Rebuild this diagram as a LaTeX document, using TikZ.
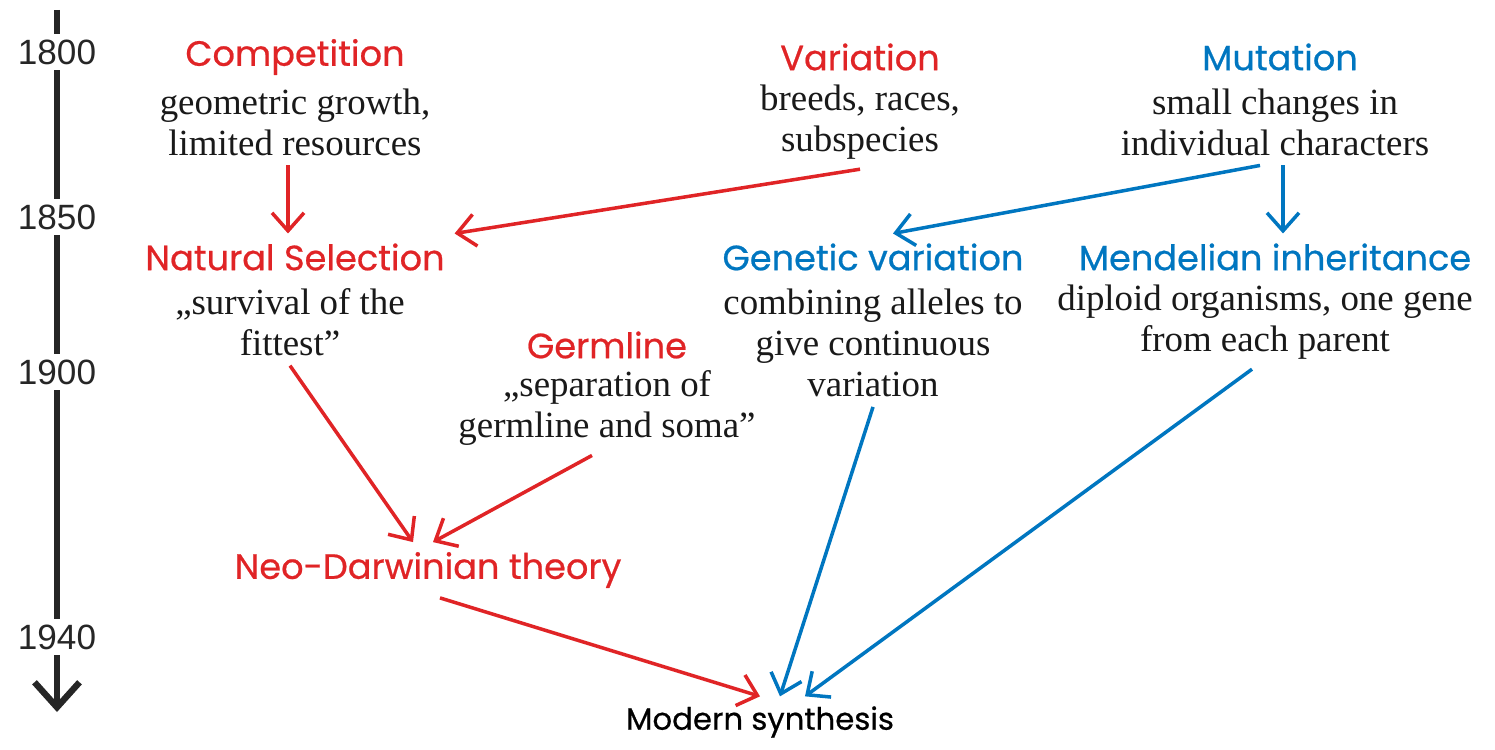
\documentclass[tikz,border=0pt]{standalone}
\usepackage{fontspec}
\setmainfont{Liberation Serif}
\newfontfamily\yearfont{Liberation Sans}
\newfontfamily\headfont{Poppins}[FakeBold=0.6]
\usetikzlibrary{arrows.meta}
\definecolor{evored}{RGB}{224,36,38}
\definecolor{evoblue}{RGB}{0,118,192}
\tikzset{
  head/.style={inner sep=0pt,outer sep=0.2cm,font=\headfont\fontsize{20}{23}\selectfont},
  body/.style={inner sep=0pt,outer sep=0.2cm,align=center,text=black!90,
    font=\fontsize{21}{23.3}\selectfont},
  year/.style={fill=white,inner sep=3pt,text=black!85,font=\yearfont\fontsize{20}{24}\selectfont},
  link/.style={line width=2pt,-{Straight Barb[length=3.6mm,width=6.4mm]}},
}
\begin{document}
\begin{tikzpicture}[x=0.02cm,y=-0.02cm]
  \useasboundingbox (0,0) rectangle (1495,750);
  \coordinate (tltop) at (57,10);
  \coordinate (tlend) at (57,712);
  \draw[line width=3.6pt,black!85,-{Straight Barb[length=5mm,width=9mm]}] (tltop) -- (tlend);
  \node[year] (y1800) at (57,52) {1800};
  \node[year] (y1850) at (57,217) {1850};
  \node[year] (y1900) at (57,372) {1900};
  \node[year] (y1940) at (57,637) {1940};

  \node[head,text=evored] (compT) at (295,57) {Competition};
  \node[body] (compB) at (295,122) {geometric growth,\\limited resources};
  \node[head,text=evored] (varT) at (860,57) {Variation};
  \node[body] (varB) at (860,122) {breeds, races,\\subspecies};
  \node[head,text=evoblue] (mutT) at (1280,57) {Mutation};
  \node[body] (mutB) at (1275,122) {small changes in\\individual characters};

  \node[head,text=evored] (natT) at (295,257) {Natural Selection};
  \node[body] (natB) at (290,322) {„survival of the\\fittest”};
  \node[head,text=evoblue] (genT) at (873,257) {Genetic variation};
  \node[body] (genB) at (873,343) {combining alleles to\\give continuous\\variation};
  \node[head,text=evoblue] (menT) at (1275,257) {Mendelian inheritance};
  \node[body] (menB) at (1265,322) {diploid organisms, one gene\\from each parent};
  \node[head,text=evored] (germT) at (607,345) {Germline};
  \node[body] (germB) at (607,408) {„separation of\\germline and soma”};

  \node[head,text=evored] (neoT) at (428,570) {Neo-Darwinian theory};
  \node[head,text=black,font=\headfont\fontsize{17.5}{22}\selectfont] (modT) at (760,722) {Modern synthesis};

  \draw[link,evored] ([xshift=-0.14cm]compB.south) -- ([xshift=-0.14cm]natT.north);
  \draw[link,evored] (varB.south) -- (natT.north east);
  \draw[link,evoblue] ([xshift=-0.3cm]mutB.south) -- ([xshift=0.4cm]genT.north);
  \draw[link,evoblue] ([xshift=0.16cm]mutB.south) -- ([xshift=0.16cm]menT.north);
  \draw[link,evored] (natB.south) -- ([xshift=-0.3cm]neoT.north);
  \draw[link,evored] ([xshift=-0.3cm]germB.south) -- ([xshift=0.1cm]neoT.north);
  \draw[link,evored] ([xshift=0.24cm]neoT.south) -- (modT.north);
  \draw[link,evoblue] (genB.south) -- ([xshift=0.4cm]modT.north);
  \draw[link,evoblue] ([xshift=-0.26cm]menB.south) -- ([xshift=0.9cm]modT.north);
\end{tikzpicture}
\end{document}
